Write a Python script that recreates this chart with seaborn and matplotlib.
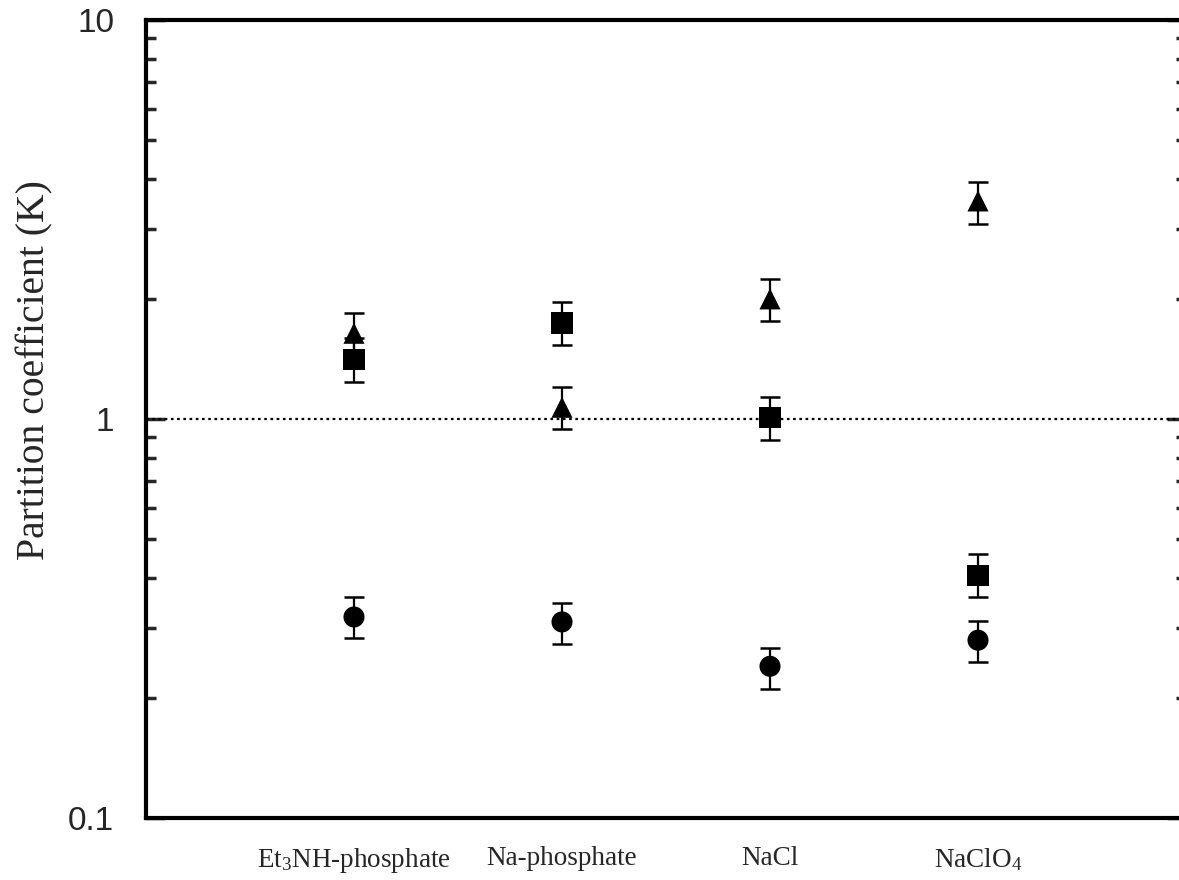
import numpy as np
import pandas as pd
import matplotlib
matplotlib.use("Agg")
import matplotlib.pyplot as plt
import seaborn as sns
from matplotlib.ticker import LogLocator, NullFormatter, FixedLocator

# ---- data ----
categories = ["Et$_3$NH-phosphate", "Na-phosphate", "NaCl", "NaClO$_4$"]
series = ["triangle", "square", "circle"]

tri_val = [1.64, 1.07, 2.00, 3.52]
tri_lo = [1.46, 0.944, 1.76, 3.08]
tri_hi = [1.84, 1.20, 2.24, 3.93]

sq_val = [1.41, 1.74, 1.01, 0.406]
sq_lo = [1.24, 1.53, 0.886, 0.358]
sq_hi = [1.60, 1.96, 1.135, 0.459]

ci_val = [0.319, 0.310, 0.240, 0.279]
ci_lo = [0.283, 0.273, 0.211, 0.246]
ci_hi = [0.358, 0.346, 0.267, 0.312]

sns.set_theme(style="white")
plt.rcParams["mathtext.fontset"] = "custom"
plt.rcParams["mathtext.rm"] = "Liberation Serif"
plt.rcParams["mathtext.it"] = "Liberation Serif:italic"

rows = []
for s, vals in zip(series, [tri_val, sq_val, ci_val]):
    for i, v in enumerate(vals):
        rows.append({"x": i + 1, "K": v, "series": s})
df = pd.DataFrame(rows)

fig = plt.figure(figsize=(11.79, 8.8), dpi=100)
ax = fig.add_axes([146 / 1179, 1 - 818 / 880, (1186 - 146) / 1179, (818 - 20) / 880])

# error bars
for vals, lo, hi in [(tri_val, tri_lo, tri_hi), (sq_val, sq_lo, sq_hi), (ci_val, ci_lo, ci_hi)]:
    v = np.array(vals); l = np.array(lo); h = np.array(hi)
    ax.errorbar(np.arange(1, 5), v, yerr=[v - l, h - v], fmt="none",
                ecolor="black", elinewidth=1.6, capsize=7, capthick=1.8, zorder=2)

sns.scatterplot(data=df, x="x", y="K", style="series",
                markers={"triangle": "^", "square": "s", "circle": "o"},
                color="black", s=230, edgecolor="black", linewidth=0,
                legend=False, ax=ax, zorder=3)

ax.axhline(1.0, color="black", linestyle=(0, (1.2, 1.6)), linewidth=1.6, zorder=1)

ax.set_yscale("log")
ax.set_ylim(0.1, 10)
ax.set_xlim(0, 5.0)

ax.set_xticks(np.arange(1, 5))
ax.set_xticklabels(categories, family="Liberation Serif", fontsize=19.5)
ax.tick_params(axis="x", length=0, pad=20)

ax.yaxis.set_major_locator(FixedLocator([0.1, 1, 10]))
ax.set_yticklabels(["0.1", "1", "10"], family="Liberation Sans", fontsize=24)
ax.yaxis.set_minor_locator(LogLocator(base=10, subs=np.arange(2, 10)))
ax.yaxis.set_minor_formatter(NullFormatter())
ax.tick_params(axis="y", which="major", direction="in", length=14, width=2.5,
               pad=23, left=True, right=True)
ax.tick_params(axis="y", which="minor", direction="in", length=7, width=2.5,
               left=True, right=True)

ax.set_xlabel("")
ax.set_ylabel("")
fig.text(35 / 1179, 1 - 370 / 880, "Partition coefficient (K)", rotation=90,
         ha="center", va="center", family="Liberation Serif", fontsize=28.5)

for side in ["left", "bottom", "top"]:
    ax.spines[side].set_visible(True)
    ax.spines[side].set_linewidth(3)
    ax.spines[side].set_color("black")
ax.spines["right"].set_visible(False)

fig.savefig("out.png", dpi=100)
